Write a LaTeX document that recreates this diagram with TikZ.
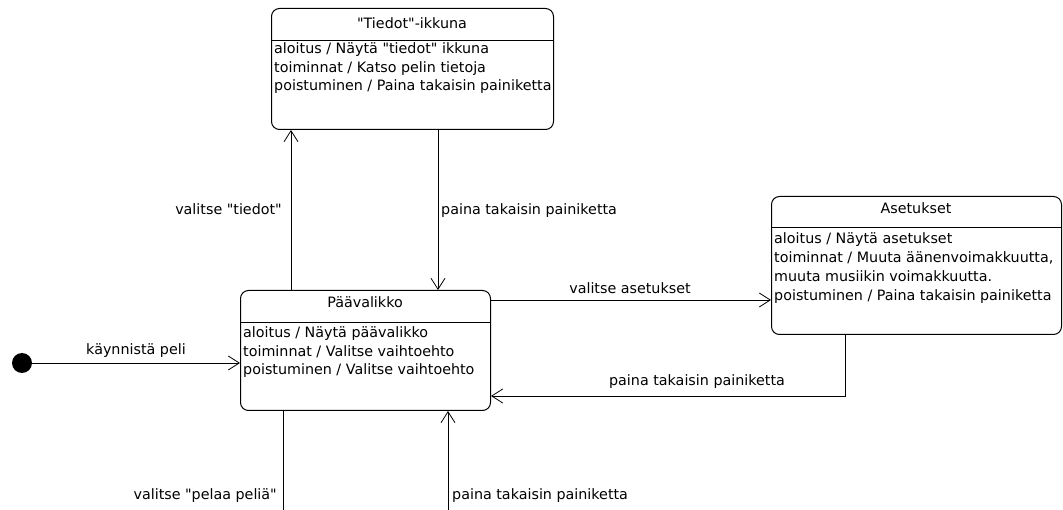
\documentclass[tikz,border=0pt]{standalone}
\usepackage{fontspec}
\setmainfont{DejaVu Sans}
\usetikzlibrary{arrows.meta}
\newcommand{\q}{\textquotedbl}
\begin{document}
\begin{tikzpicture}[x=1pt,y=-1pt,
  state/.style={draw, line width=1pt, rounded corners=8pt, anchor=north west, inner sep=0pt},
  lbl/.style={font=\fontsize{14.3}{18.5}\selectfont, inner sep=0pt},
  tr/.style={draw, line width=0.8pt, -{Straight Barb[length=11pt,width=14pt]}},
  ln/.style={draw, line width=0.8pt},
]
\useasboundingbox (0,0) rectangle (1063,510);
% states
\node[state, minimum width=282pt, minimum height=121pt] (tiedot) at (271,8) {};
\draw[line width=0.8pt] ([yshift=-32pt]tiedot.north west) -- ([yshift=-32pt]tiedot.north east);
\node[lbl] (tiedotT) at (412,23) {\q Tiedot\q-ikkuna};
\node[lbl, anchor=mid west] (tiedot1) at (274,51) {aloitus / Näytä \q tiedot\q{} ikkuna};
\node[lbl, anchor=mid west] (tiedot2) at (274,69.5) {toiminnat / Katso pelin tietoja};
\node[lbl, anchor=mid west] (tiedot3) at (274,88) {poistuminen / Paina takaisin painiketta};

\node[state, minimum width=250pt, minimum height=120pt] (paa) at (240,290) {};
\draw[line width=0.8pt] ([yshift=-32pt]paa.north west) -- ([yshift=-32pt]paa.north east);
\node[lbl] (paaT) at (365,302) {Päävalikko};
\node[lbl, anchor=mid west] (paa1) at (243,335) {aloitus / Näytä päävalikko};
\node[lbl, anchor=mid west] (paa2) at (243,353.5) {toiminnat / Valitse vaihtoehto};
\node[lbl, anchor=mid west] (paa3) at (243,372) {poistuminen / Valitse vaihtoehto};

\node[state, minimum width=290pt, minimum height=138pt] (ase) at (771,196) {};
\draw[line width=0.8pt] ([yshift=-31pt]ase.north west) -- ([yshift=-31pt]ase.north east);
\node[lbl] (aseT) at (916,208) {Asetukset};
\node[lbl, anchor=mid west] (ase1) at (774,241) {aloitus / Näytä asetukset};
\node[lbl, anchor=mid west] (ase2) at (774,260) {toiminnat / Muuta äänenvoimakkuutta,};
\node[lbl, anchor=mid west] (ase3) at (774,279) {muuta musiikin voimakkuutta.};
\node[lbl, anchor=mid west] (ase4) at (774,298) {poistuminen / Paina takaisin painiketta};

% initial
\node[circle, fill=black, minimum size=20pt, inner sep=0pt] (init) at (22,363) {};
\coordinate (b1) at (283,510);
\coordinate (b2) at (448,510);

% transitions
\draw[tr] (init) -- (init -| paa.west);
\node[lbl] (l1) at (136,351) {käynnistä peli};

\draw[tr] ([xshift=51pt]paa.north west) -- ([xshift=20pt]tiedot.south west);
\node[lbl, anchor=mid east] (l2) at (282,212) {valitse \q tiedot\q};

\draw[tr] ([xshift=167pt]tiedot.south west) -- ([xshift=198pt]paa.north west);
\node[lbl, anchor=mid west] (l3) at (441,212) {paina takaisin painiketta};

\draw[tr] ([yshift=-10pt]paa.north east) -- ([yshift=-10pt]paa.north east -| ase.west);
\node[lbl] (l4) at (630,288) {valitse asetukset};

\draw[tr] ([xshift=74pt]ase.south west) |- ([yshift=15pt]paa.south east);
\node[lbl] (l5) at (697,382) {paina takaisin painiketta};

\draw[ln] (b1 |- paa.south) -- (b1);
\node[lbl, anchor=mid east] (l6) at (277,497) {valitse \q pelaa peliä\q};

\draw[tr] (b2) -- (b2 |- paa.south);
\node[lbl, anchor=mid west] (l7) at (452,497) {paina takaisin painiketta};
\end{tikzpicture}
\end{document}
